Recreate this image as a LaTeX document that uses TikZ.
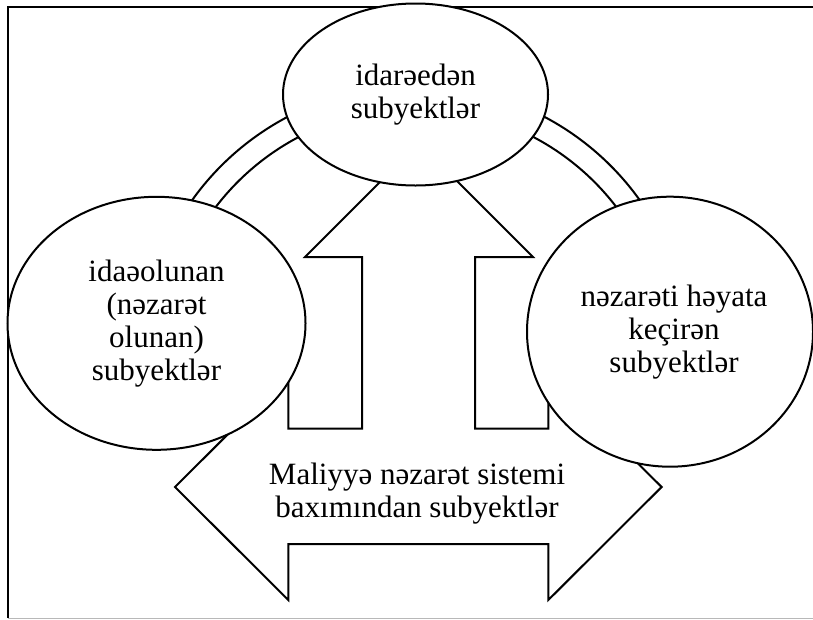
\documentclass[tikz,border=0pt]{standalone}
\usepackage{fontspec}
\setmainfont{Liberation Serif}
\usetikzlibrary{shapes.geometric}
\begin{document}
\begin{tikzpicture}[x=1pt,y=1pt,
  shp/.style={draw=black,line width=2pt,fill=white,line join=miter},
  ell/.style={shp,ellipse,inner sep=0pt,align=center,
    font=\fontsize{31}{33}\selectfont,
    execute at begin node={\rule{0pt}{30pt}}},
  lbl/.style={align=center,inner sep=0pt,font=\fontsize{31}{33}\selectfont}]
\useasboundingbox (0,0) rectangle (813,-619);
% frame
\draw[line width=1.7pt] (8.3,-618) -- (8.3,-7) -- (813,-7);
\draw[line width=1pt,color=black!28] (8.3,-618.3) -- (813,-618.3);
% ring band
\coordinate (ringc) at (416,-360);
\draw[shp] ([shift={(160:275pt)}]ringc) arc[start angle=160,end angle=20,radius=275pt]
  -- ([shift={(20:252pt)}]ringc) arc[start angle=20,end angle=160,radius=252pt] -- cycle;
% combined arrow
\draw[shp] (175,-487) -- (288.3,-374) -- (288.3,-428.5) -- (362,-428.5) -- (362,-257)
  -- (305,-257) -- (419,-143) -- (533,-257) -- (475,-257) -- (475,-428.5)
  -- (548.3,-428.5) -- (548.3,-374) -- (661.6,-487) -- (548.3,-600) -- (548.3,-544)
  -- (288.3,-544) -- (288.3,-600) -- cycle;
% ellipses
\node[ell,minimum width=265pt,minimum height=182pt] (top) at (415.5,-94.5)
  {idarəedən\\subyektlər};
\node[ell,minimum width=298pt,minimum height=253pt] (left) at (156.5,-323.3)
  {idaəolunan\\(nəzarət\\olunan)\\subyektlər};
\node[ell,minimum width=286pt,minimum height=270pt] (right) at (670,-331.7)
  {\hspace*{8pt}nəzarəti həyata\\\hspace*{8pt}keçirən\\\hspace*{8pt}subyektlər};
% arrow text
\node[lbl] (sys) at (417,-493.5) {Maliyyə nəzarət sistemi\\baxımından subyektlər};
\end{tikzpicture}
\end{document}
